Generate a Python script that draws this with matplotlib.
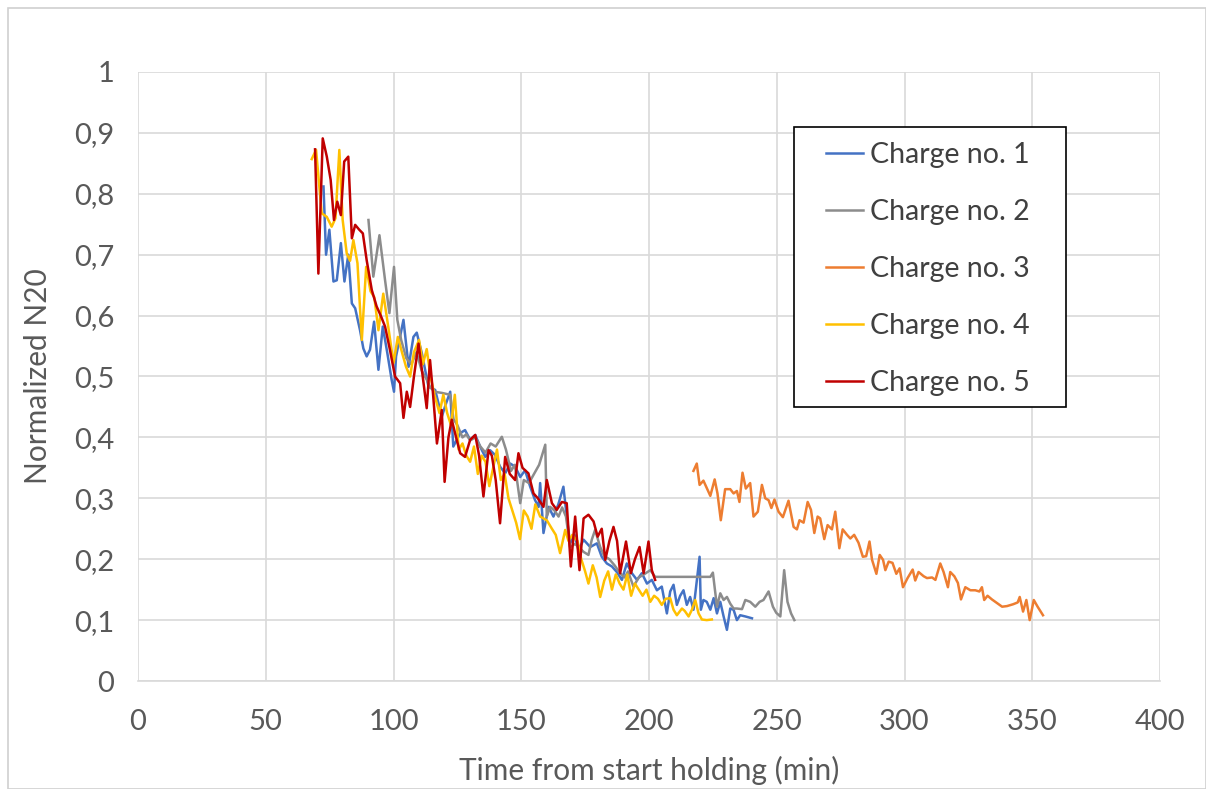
import matplotlib
matplotlib.use("Agg")
import matplotlib.pyplot as plt
from matplotlib.ticker import FuncFormatter, MultipleLocator
from matplotlib.patches import Rectangle

plt.rcParams['font.family'] = ['Lato', 'DejaVu Sans']

c1_x = [72.6, 73.6, 74.9, 76.5, 77.8, 79.4, 80.8, 82.3, 83.7, 85.0, 86.9, 88.2, 89.5, 90.8, 92.4, 94.1,
        95.8, 97.6, 99.3, 100.2, 101.0, 103.9, 105.9, 107.8, 109.1, 111.1, 113.7, 116.3, 118.9, 120.5,
        122.2, 123.4, 126.1, 128.0, 130.0, 132.0, 133.9, 135.9, 137.8, 139.8, 141.7, 143.7, 145.7,
        147.6, 149.6, 151.5, 153.5, 155.4, 156.8, 157.4, 158.7, 160.7, 162.6, 164.5, 166.5, 167.8,
        169.1, 170.8, 172.4, 174.4, 177.0, 179.6, 181.5, 183.5, 185.5, 187.4, 189.4, 191.3, 193.3,
        195.3, 197.2, 199.2, 201.1, 203.1, 205.0, 207.0, 208.3, 209.6, 210.9, 212.2, 213.5, 214.8,
        216.1, 217.4, 219.8, 220.3, 221.3, 222.6, 224.0, 225.3, 226.6, 227.9, 229.2, 230.5, 231.8,
        233.1, 234.4, 235.7, 237.7, 240.3]
c1_y = [0.812, 0.700, 0.741, 0.656, 0.658, 0.719, 0.656, 0.700, 0.620, 0.612, 0.576, 0.546, 0.533, 0.544,
        0.590, 0.511, 0.582, 0.538, 0.494, 0.475, 0.533, 0.593, 0.516, 0.565, 0.572, 0.538, 0.483, 0.478,
        0.434, 0.455, 0.475, 0.385, 0.407, 0.412, 0.396, 0.404, 0.385, 0.368, 0.379, 0.371, 0.352, 0.341,
        0.357, 0.352, 0.335, 0.346, 0.319, 0.297, 0.286, 0.325, 0.243, 0.286, 0.270, 0.290, 0.319, 0.270,
        0.226, 0.240, 0.215, 0.232, 0.220, 0.226, 0.204, 0.193, 0.188, 0.179, 0.166, 0.193, 0.177, 0.166,
        0.177, 0.160, 0.166, 0.149, 0.155, 0.111, 0.147, 0.158, 0.125, 0.140, 0.149, 0.125, 0.138, 0.117,
        0.204, 0.117, 0.133, 0.130, 0.117, 0.136, 0.111, 0.130, 0.106, 0.084, 0.119, 0.117, 0.100, 0.108,
        0.106, 0.103]

c2_x = [90.2, 92.1, 94.5, 96.7, 98.4, 100.2, 101.5, 103.0, 105.0, 107.0, 109.0, 111.0, 113.0, 114.3, 116.0,
        119.0, 122.2, 123.5, 125.0, 127.0, 128.5, 130.0, 132.0, 134.0, 136.0, 138.0, 140.0, 142.4, 144.0,
        146.0, 147.5, 149.6, 151.0, 153.0, 155.0, 157.0, 159.4, 160.0, 161.3, 163.0, 164.6, 166.0, 167.5,
        169.1, 171.0, 172.5, 174.4, 176.3, 177.6, 178.9, 180.9, 182.5, 184.5, 186.5, 188.7, 190.5, 191.8,
        193.9, 196.0, 198.0, 200.5, 202.4, 224.0, 225.0, 226.6, 227.9, 229.2, 230.5, 231.8, 233.1, 234.4,
        236.4, 237.7, 239.6, 241.6, 243.3, 244.8, 246.8, 248.5, 249.8, 251.4, 252.9, 254.2, 255.6, 256.9]
c2_y = [0.757, 0.664, 0.732, 0.658, 0.604, 0.680, 0.593, 0.560, 0.530, 0.520, 0.540, 0.510, 0.495, 0.483,
        0.475, 0.473, 0.470, 0.430, 0.420, 0.400, 0.405, 0.395, 0.400, 0.385, 0.375, 0.390, 0.385, 0.401,
        0.380, 0.345, 0.355, 0.292, 0.330, 0.325, 0.340, 0.355, 0.388, 0.270, 0.286, 0.280, 0.270, 0.285,
        0.270, 0.220, 0.225, 0.220, 0.212, 0.207, 0.232, 0.248, 0.220, 0.205, 0.200, 0.190, 0.177, 0.170,
        0.180, 0.155, 0.170, 0.175, 0.182, 0.171, 0.171, 0.178, 0.122, 0.144, 0.133, 0.138, 0.127, 0.119,
        0.119, 0.118, 0.133, 0.130, 0.122, 0.130, 0.133, 0.147, 0.122, 0.112, 0.106, 0.182, 0.130, 0.111,
        0.100]

c3_x = [217.4, 218.7, 219.8, 221.3, 224.0, 225.7, 226.8, 228.1, 229.8, 231.8, 233.1, 234.4, 235.4, 236.6,
        237.9, 239.6, 240.9, 242.6, 244.2, 245.5, 246.8, 247.9, 249.1, 250.7, 252.4, 254.6, 256.6, 257.9,
        258.9, 260.5, 262.1, 263.4, 264.7, 266.0, 267.0, 268.6, 269.9, 271.6, 272.9, 274.5, 275.8, 277.5,
        278.8, 280.3, 282.0, 283.7, 285.0, 286.3, 287.3, 289.0, 290.3, 291.6, 292.5, 293.8, 295.3, 296.8,
        298.1, 299.4, 301.2, 303.2, 304.2, 305.5, 307.5, 308.8, 310.8, 312.1, 314.0, 315.3, 317.0, 317.9,
        319.5, 320.9, 322.1, 323.8, 325.8, 327.7, 329.3, 330.3, 331.2, 332.5, 334.2, 336.2, 338.2, 340.1,
        342.5, 344.3, 345.1, 346.4, 347.7, 349.0, 350.6, 352.1, 354.2]
c3_y = [0.345, 0.357, 0.322, 0.329, 0.304, 0.331, 0.308, 0.264, 0.315, 0.315, 0.308, 0.312, 0.294, 0.342,
        0.316, 0.325, 0.270, 0.278, 0.322, 0.300, 0.297, 0.284, 0.298, 0.278, 0.269, 0.296, 0.253, 0.249,
        0.264, 0.260, 0.294, 0.281, 0.243, 0.270, 0.267, 0.233, 0.256, 0.249, 0.278, 0.218, 0.249, 0.240,
        0.234, 0.240, 0.227, 0.204, 0.205, 0.229, 0.199, 0.176, 0.207, 0.199, 0.182, 0.196, 0.194, 0.176,
        0.185, 0.154, 0.169, 0.183, 0.165, 0.179, 0.172, 0.169, 0.170, 0.166, 0.193, 0.179, 0.154, 0.179,
        0.172, 0.161, 0.134, 0.154, 0.149, 0.149, 0.147, 0.154, 0.133, 0.140, 0.134, 0.128, 0.122, 0.123,
        0.126, 0.129, 0.138, 0.114, 0.133, 0.100, 0.133, 0.122, 0.108]

c4_x = [68.0, 69.7, 71.9, 73.9, 75.8, 77.3, 78.8, 80.1, 81.7, 83.0, 84.3, 85.9, 87.6, 89.3, 91.0, 92.5,
        94.1, 96.0, 98.0, 100.0, 101.7, 103.3, 104.9, 106.5, 108.0, 110.0, 111.5, 113.0, 114.5, 116.0,
        118.0, 119.5, 121.0, 122.5, 124.0, 125.5, 127.0, 128.5, 130.0, 131.5, 133.0, 134.5, 136.0, 137.5,
        139.0, 140.5, 142.0, 143.5, 145.0, 146.5, 148.0, 149.5, 151.0, 152.5, 154.0, 155.5, 157.4, 160.0,
        162.0, 163.5, 165.2, 167.2, 168.5, 170.0, 172.0, 173.5, 175.0, 176.3, 178.0, 179.5, 180.9, 182.5,
        184.0, 185.5, 187.0, 188.5, 190.0, 191.5, 193.0, 194.5, 196.0, 197.5, 199.0, 200.5, 202.0, 203.5,
        205.0, 206.5, 208.3, 209.6, 210.9, 212.9, 214.0, 215.5, 216.8, 218.1, 219.4, 220.7, 222.6, 224.6]
c4_y = [0.857, 0.872, 0.768, 0.762, 0.746, 0.760, 0.872, 0.757, 0.702, 0.690, 0.724, 0.686, 0.560, 0.680,
        0.640, 0.630, 0.576, 0.636, 0.580, 0.522, 0.565, 0.540, 0.516, 0.500, 0.540, 0.560, 0.520, 0.545,
        0.500, 0.470, 0.440, 0.470, 0.440, 0.420, 0.470, 0.380, 0.390, 0.370, 0.360, 0.385, 0.340, 0.370,
        0.360, 0.320, 0.350, 0.380, 0.330, 0.340, 0.300, 0.280, 0.260, 0.233, 0.280, 0.270, 0.250, 0.290,
        0.270, 0.264, 0.250, 0.240, 0.210, 0.248, 0.230, 0.240, 0.230, 0.200, 0.180, 0.160, 0.190, 0.170,
        0.138, 0.165, 0.180, 0.150, 0.175, 0.160, 0.150, 0.175, 0.140, 0.160, 0.150, 0.140, 0.150, 0.130,
        0.140, 0.135, 0.125, 0.135, 0.136, 0.117, 0.108, 0.119, 0.115, 0.106, 0.117, 0.133, 0.111, 0.101,
        0.100, 0.101]

c5_x = [69.3, 70.6, 72.3, 73.9, 75.4, 76.7, 78.0, 79.4, 80.7, 82.3, 83.7, 85.0, 86.6, 88.0, 89.5, 91.5,
        93.4, 95.0, 96.7, 98.6, 100.6, 102.6, 103.9, 105.2, 106.5, 108.0, 109.8, 111.1, 113.0, 114.3,
        115.5, 117.0, 118.9, 120.0, 121.5, 122.8, 124.5, 126.1, 128.0, 130.0, 132.0, 133.5, 135.2, 137.2,
        138.5, 140.0, 141.7, 143.7, 145.5, 147.6, 148.9, 150.5, 152.8, 154.8, 156.5, 158.7, 160.0, 162.0,
        163.9, 165.9, 167.8, 169.4, 171.1, 172.8, 174.4, 176.3, 178.3, 179.9, 181.5, 182.9, 184.5, 186.1,
        187.5, 188.7, 191.0, 192.9, 194.5, 196.3, 197.9, 199.8, 201.1, 202.4]
c5_y = [0.873, 0.669, 0.891, 0.861, 0.823, 0.757, 0.787, 0.765, 0.853, 0.861, 0.727, 0.749, 0.741, 0.735,
        0.691, 0.642, 0.615, 0.600, 0.582, 0.544, 0.500, 0.489, 0.432, 0.475, 0.450, 0.500, 0.554, 0.511,
        0.448, 0.527, 0.470, 0.390, 0.445, 0.327, 0.400, 0.429, 0.400, 0.374, 0.368, 0.396, 0.404, 0.370,
        0.303, 0.379, 0.370, 0.330, 0.259, 0.368, 0.340, 0.330, 0.374, 0.350, 0.341, 0.308, 0.300, 0.286,
        0.330, 0.292, 0.281, 0.294, 0.292, 0.188, 0.270, 0.182, 0.267, 0.273, 0.262, 0.237, 0.250, 0.199,
        0.230, 0.253, 0.230, 0.177, 0.229, 0.177, 0.200, 0.220, 0.177, 0.229, 0.182, 0.166]

labels = ["Charge no. 1", "Charge no. 2", "Charge no. 3", "Charge no. 4", "Charge no. 5"]
colors = ["#4472C4", "#8C8C8C", "#ED7D31", "#FFC000", "#C00000"]
series = [(c1_x, c1_y), (c2_x, c2_y), (c3_x, c3_y), (c4_x, c4_y), (c5_x, c5_y)]

W, H = 1206, 789
fig = plt.figure(figsize=(W / 100, H / 100), dpi=100)
fig.patches.append(Rectangle((8 / W, 0), 1 - 8 / W, 1 - 8 / H, transform=fig.transFigure,
                             fill=False, edgecolor="#d0d0d0", linewidth=1.2))
ax = fig.add_axes([138 / W, 1 - 681 / H, 1022 / W, 609 / H])

for (xs, ys), lab, col in zip(series, labels, colors):
    ax.plot(xs, ys, color=col, linewidth=1.8, label=lab)


def fmt(v, p):
    if abs(v - round(v)) < 1e-9:
        return "%d" % round(v)
    return ("%.1f" % v).replace(".", ",")


ax.set_xlim(0, 400)
ax.set_ylim(0, 1)
ax.xaxis.set_major_locator(MultipleLocator(50))
ax.yaxis.set_major_locator(MultipleLocator(0.1))
ax.yaxis.set_major_formatter(FuncFormatter(fmt))
ax.grid(True, color="#d9d9d9", linewidth=1.2)
ax.set_axisbelow(True)
for s in ["top", "right", "left"]:
    ax.spines[s].set_visible(False)
ax.spines["bottom"].set_color("#d9d9d9")
ax.spines["bottom"].set_linewidth(1.2)
ax.tick_params(axis="both", length=0, labelsize=21, colors="#595959")
ax.tick_params(axis="y", pad=17)
ax.tick_params(axis="x", pad=20)

ax.set_xlabel("Time from start holding (min)", fontsize=21.5, color="#595959", labelpad=15)
ax.set_ylabel("Normalized N20", fontsize=21.5, color="#595959", labelpad=16)

# legend box drawn separately so its size matches the reference
fig.patches.append(Rectangle((794 / W, 1 - 407 / H), 272 / W, 280 / H, transform=fig.transFigure,
                             fill=True, facecolor="white", edgecolor="black", linewidth=1.2,
                             zorder=5))
leg = fig.legend(*ax.get_legend_handles_labels(), loc="upper left",
                 bbox_to_anchor=(826 / W, 1 - 142 / H), bbox_transform=fig.transFigure,
                 fontsize=20.5, frameon=False, handlelength=1.3, handletextpad=0.25,
                 labelspacing=1.09, borderpad=0, borderaxespad=0)
leg.set_zorder(6)
for t in leg.get_texts():
    t.set_color("#404040")

fig.savefig("out.png", dpi=100)
